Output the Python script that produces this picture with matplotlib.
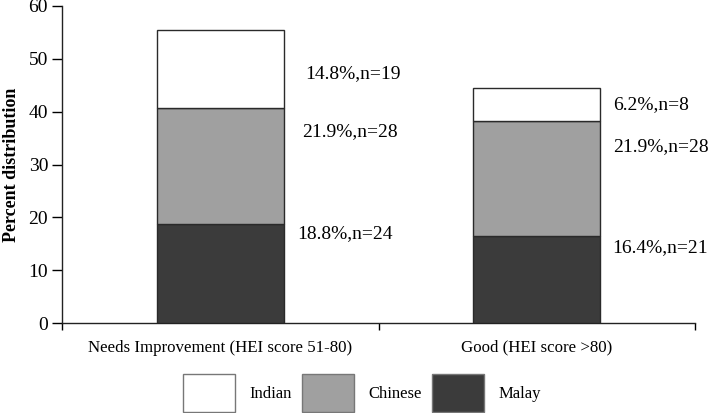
import matplotlib
matplotlib.use("Agg")
import matplotlib.pyplot as plt
from matplotlib.patches import Patch

# data
categories = ["Needs Improvement (HEI score 51-80)", "Good (HEI score >80)"]
groups = ["Malay", "Chinese", "Indian"]
malay = [18.8, 16.4]
chinese = [21.9, 21.9]
indian = [14.8, 6.2]
malay_n = [24, 21]
chinese_n = [28, 28]
indian_n = [19, 8]

colors = {"Malay": "#3b3b3b", "Chinese": "#a0a0a0", "Indian": "#ffffff"}
edge = "#2a2a2a"

# label placement (layout only): y in data units, x offset from bar centre
label_y = {
    "Indian": [47.3, 41.3],
    "Chinese": [36.2, 33.3],
    "Malay": [17.0, 14.2],
}
label_dx = {
    "Indian": [0.27, 0.24],
    "Chinese": [0.258, 0.24],
    "Malay": [0.243, 0.24],
}

plt.rcParams["font.family"] = ["Liberation Serif", "DejaVu Serif"]
fs = 14

fig = plt.figure(figsize=(7.08, 4.13), dpi=100)
ax = fig.add_axes([62 / 708, 1 - 323 / 413, 633 / 708, 317 / 413])

x = list(range(len(categories)))
w = 0.40
series = {"Malay": malay, "Chinese": chinese, "Indian": indian}
counts = {"Malay": malay_n, "Chinese": chinese_n, "Indian": indian_n}
bottom = [0.0] * len(x)
for g in groups:
    vals = series[g]
    ax.bar(x, vals, w, bottom=bottom, color=colors[g], edgecolor=edge,
           linewidth=1.0, zorder=3)
    for i in x:
        ax.text(i + label_dx[g][i], label_y[g][i],
                f"{vals[i]:.1f}%,n={counts[g][i]}",
                fontsize=fs, va="center", ha="left")
    bottom = [b + v for b, v in zip(bottom, vals)]

ax.set_xlim(-0.5, 1.5)
ax.set_ylim(0, 60)
ax.set_yticks(range(0, 61, 10))
ax.tick_params(axis="y", labelsize=fs, length=7, width=1, direction="out",
               pad=3)
ax.set_xticks([-0.5, 0.5, 1.5])
ax.set_xticklabels([])
ax.tick_params(axis="x", which="major", length=5, width=1, direction="out")
ax.set_xticks(x, minor=True)
ax.set_xticklabels(categories, minor=True, fontsize=12.2)
ax.tick_params(axis="x", which="minor", length=0, pad=12)

for s in ["top", "right"]:
    ax.spines[s].set_visible(False)
for s in ["left", "bottom"]:
    ax.spines[s].set_linewidth(1.0)
    ax.spines[s].set_color("#222222")

ax.set_ylabel("Percent distribution", fontsize=13, fontweight="bold")
ax.yaxis.set_label_coords(-0.0664, 0.5)

handles = [Patch(facecolor=colors[g], edgecolor="#777777", linewidth=1.0,
                 label=g) for g in ["Indian", "Chinese", "Malay"]]
fig.legend(handles=handles, loc="center", ncol=3, frameon=False,
           bbox_to_anchor=(362 / 708, 1 - 393 / 413), fontsize=12,
           handlelength=3.1, handleheight=3.2, handletextpad=0.9,
           columnspacing=0.6)

fig.savefig("out.png", dpi=100)
